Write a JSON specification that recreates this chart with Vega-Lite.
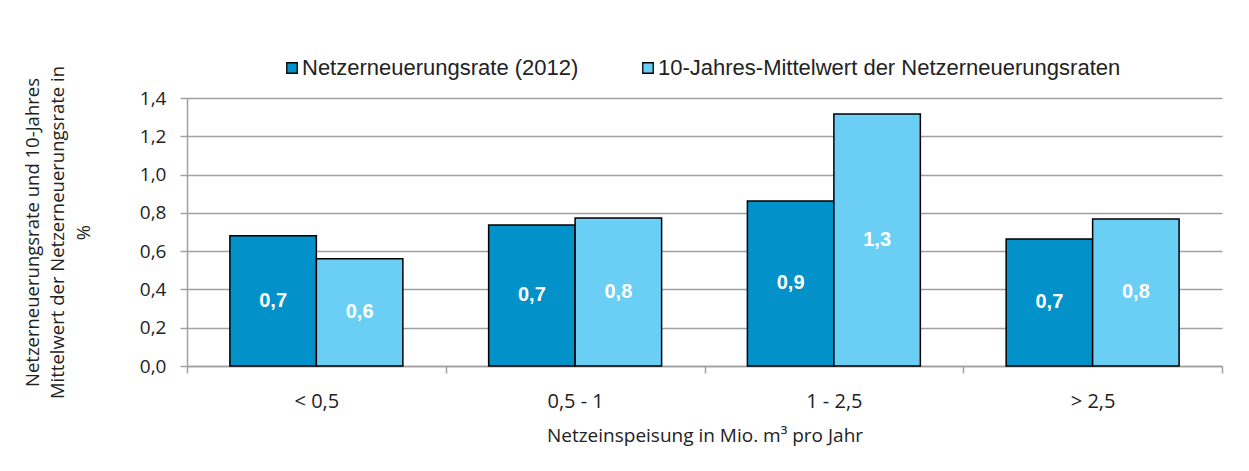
{
  "$schema": "https://vega.github.io/schema/vega-lite/v6.json",
  "width": 1035,
  "height": 268,
  "autosize": {"type": "none"},
  "padding": {"left": 187, "top": 98, "right": 27, "bottom": 105},
  "background": "white",
  "config": {
    "view": {"stroke": null},
    "axisY": {
      "values": [0, 0.2, 0.4, 0.6, 0.8, 1.0, 1.2, 1.4],
      "labelExpr": "replace(format(datum.value, '.1f'), '.', ',')",
      "labelOverlap": false,
      "labelBound": false,
      "grid": true,
      "gridColor": "#a0a0a0",
      "gridWidth": 1.5,
      "domainColor": "#a0a0a0",
      "domainWidth": 1.5,
      "tickColor": "#a0a0a0",
      "tickWidth": 1.5,
      "tickSize": 7,
      "labelPadding": 14,
      "labelFont": "Open Sans",
      "labelFontSize": 19,
      "labelColor": "#222222",
      "titleFont": "Open Sans",
      "titleFontSize": 18.5,
      "titleFontWeight": "normal",
      "titleColor": "#222222",
      "titleLineHeight": 25.5,
      "titlePadding": 46
    }
  },
  "data": {
    "values": [
      {"cat": "< 0,5", "series": "Netzerneuerungsrate (2012)", "value": 0.68},
      {"cat": "< 0,5", "series": "10-Jahres-Mittelwert der Netzerneuerungsraten", "value": 0.56},
      {"cat": "0,5 - 1", "series": "Netzerneuerungsrate (2012)", "value": 0.737},
      {"cat": "0,5 - 1", "series": "10-Jahres-Mittelwert der Netzerneuerungsraten", "value": 0.773},
      {"cat": "1 - 2,5", "series": "Netzerneuerungsrate (2012)", "value": 0.862},
      {"cat": "1 - 2,5", "series": "10-Jahres-Mittelwert der Netzerneuerungsraten", "value": 1.317},
      {"cat": "> 2,5", "series": "Netzerneuerungsrate (2012)", "value": 0.664},
      {"cat": "> 2,5", "series": "10-Jahres-Mittelwert der Netzerneuerungsraten", "value": 0.768}
    ]
  },
  "transform": [
    {"calculate": "datum.value / 2", "as": "mid"},
    {"calculate": "replace(format(datum.value, '.1f'), '.', ',')", "as": "label"}
  ],
  "encoding": {
    "x": {
      "field": "cat",
      "type": "nominal",
      "sort": ["< 0,5", "0,5 - 1", "1 - 2,5", "> 2,5"],
      "scale": {"paddingInner": 0, "paddingOuter": 0},
      "axis": {
        "title": "Netzeinspeisung in Mio. m³ pro Jahr",
        "labelAngle": 0,
        "tickBand": "extent",
        "domainColor": "#a0a0a0",
        "domainWidth": 1.5,
        "tickColor": "#a0a0a0",
        "tickWidth": 1.5,
        "tickSize": 7,
        "labelPadding": 18,
        "labelFont": "Open Sans",
        "labelFontSize": 20,
        "labelColor": "#222222",
        "titleFont": "Open Sans",
        "titleFontSize": 19,
        "titleFontWeight": "normal",
        "titleColor": "#222222",
        "titlePadding": 15
      }
    },
    "xOffset": {
      "field": "series",
      "type": "nominal",
      "sort": ["Netzerneuerungsrate (2012)", "10-Jahres-Mittelwert der Netzerneuerungsraten"],
      "scale": {"paddingInner": 0, "paddingOuter": 0.496}
    }
  },
  "layer": [
    {
      "mark": {"type": "bar", "stroke": "black", "strokeWidth": 1.5},
      "encoding": {
        "y": {
          "field": "value",
          "type": "quantitative",
          "scale": {"domain": [0, 1.4], "nice": false},
          "axis": {
            "title": ["Netzerneuerungsrate und 10-Jahres", "Mittelwert der Netzerneuerungsrate in", "%"]
          }
        },
        "color": {
          "field": "series",
          "type": "nominal",
          "sort": ["Netzerneuerungsrate (2012)", "10-Jahres-Mittelwert der Netzerneuerungsraten"],
          "scale": {"range": ["#0391c9", "#6bcff5"]},
          "legend": {
            "title": null,
            "orient": "none",
            "legendX": 94,
            "legendY": -41,
            "direction": "horizontal",
            "symbolType": "square",
            "symbolSize": 110,
            "symbolStrokeColor": "black",
            "symbolStrokeWidth": 1.3,
            "symbolOpacity": 1,
            "labelFont": "Liberation Sans",
            "labelFontSize": 22,
            "labelColor": "#222222",
            "labelOffset": -1,
            "columnPadding": 58,
            "labelLimit": 700
          }
        }
      }
    },
    {
      "mark": {"type": "text", "color": "white", "fontWeight": "bold", "fontSize": 20, "font": "Liberation Sans", "baseline": "middle"},
      "encoding": {
        "y": {
          "field": "mid",
          "type": "quantitative",
          "axis": {
            "title": ["Netzerneuerungsrate und 10-Jahres", "Mittelwert der Netzerneuerungsrate in", "%"]
          }
        },
        "text": {"field": "label"}
      }
    }
  ]
}
